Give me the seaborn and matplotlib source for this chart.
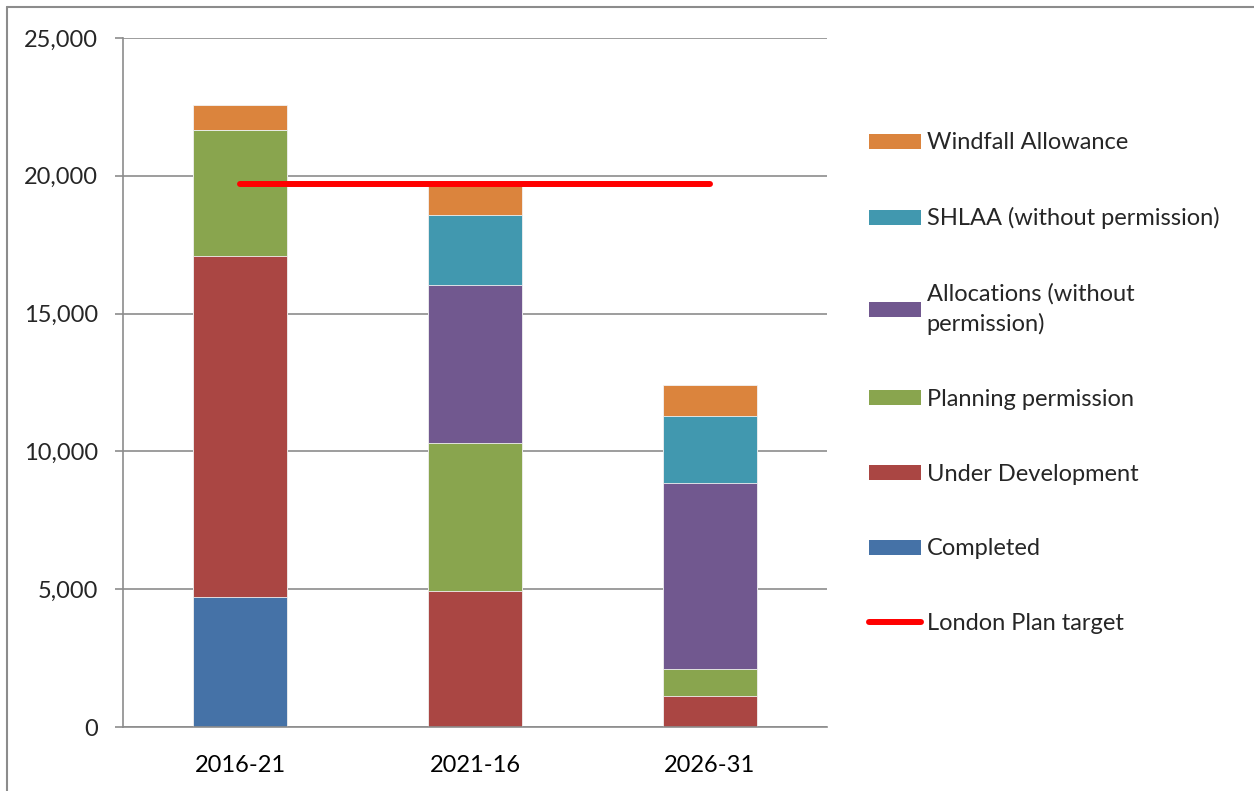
import numpy as np
import pandas as pd
import seaborn as sns
import matplotlib.pyplot as plt
from matplotlib.patches import Patch
from matplotlib.lines import Line2D

# data (dwellings per five-year period)
periods = ['2016-21', '2021-16', '2026-31']
completed = [4700, 0, 0]
under_development = [12390, 4940, 1130]
planning_permission = [4570, 5370, 980]
allocations = [0, 5740, 6750]
shlaa = [0, 2540, 2430]
windfall = [910, 1050, 1120]
london_plan_target = 19700

series_names = ['Completed', 'Under Development', 'Planning permission',
                'Allocations (without\npermission)', 'SHLAA (without permission)',
                'Windfall Allowance']
series_values = [completed, under_development, planning_permission,
                 allocations, shlaa, windfall]
colors = ['#4572A7', '#AA4643', '#89A54E', '#71588F', '#4198AF', '#DB843D']

sns.set_style('white')
plt.rcParams['font.family'] = ['Lato', 'DejaVu Sans']
fs = 17

fig = plt.figure(figsize=(12.54, 7.91), dpi=100)
ax = fig.add_axes([123 / 1254, 1 - 727 / 791, (827 - 123) / 1254, (727 - 38) / 791])

# stacked bars: draw cumulative totals from the top layer down
df = pd.DataFrame(dict(zip(series_names, series_values)), index=periods)
cum = df.cumsum(axis=1)
for name, col in reversed(list(zip(series_names, colors))):
    sns.barplot(x=periods, y=cum[name].values, color=col, width=0.4,
                saturation=1, edgecolor='#f2f2f2', linewidth=0.6, ax=ax, zorder=2)

# London Plan target line across the periods
ax.plot(np.arange(len(periods)), [london_plan_target] * len(periods),
        color='#ff0000', lw=4.3, solid_capstyle='round', zorder=3)

ax.set_ylim(0, 25000)
ax.set_xlim(-0.5, len(periods) - 0.5)
ax.set_yticks(np.arange(0, 25001, 5000))
ax.set_yticklabels([f'{v:,}' for v in range(0, 25001, 5000)])
ax.yaxis.grid(True, color='#8c8c8c', lw=1.2)
ax.set_axisbelow(True)
ax.set_xticks(np.arange(len(periods)))
ax.set_xticklabels(periods)
ax.set_xticks(np.arange(-0.5, len(periods), 1), minor=True)
ax.tick_params(axis='x', which='major', length=0, pad=20, labelsize=fs, colors='black')
ax.tick_params(axis='x', which='minor', length=6, width=1.2, color='#8c8c8c', direction='out')
ax.tick_params(axis='y', length=6, width=1.2, color='#8c8c8c', direction='out',
               labelsize=fs, pad=12, left=True)
for s in ['top', 'right']:
    ax.spines[s].set_visible(False)
for s in ['left', 'bottom']:
    ax.spines[s].set_color('#8c8c8c')
    ax.spines[s].set_linewidth(1.2)
ax.set_xlabel('')
ax.set_ylabel('')

# legend, top entry first like the original
handles = [Patch(facecolor=c, edgecolor='none') for c in colors][::-1]
labels = series_names[::-1]
handles.append(Line2D([0], [0], color='#ff0000', lw=4.3, solid_capstyle='round'))
labels.append('London Plan target')
leg = fig.legend(handles, labels, loc='upper left', bbox_to_anchor=(860 / 1254, 1 - 123 / 791),
                 frameon=False, fontsize=fs, handlelength=2.2, handleheight=0.6,
                 handletextpad=0.22, labelspacing=2.28, borderaxespad=0)
for t in leg.get_texts():
    t.set_linespacing(1.45)

# outer frame lines of the chart area
fig.add_artist(Line2D([7 / 1254, 1], [1 - 7 / 791, 1 - 7 / 791], color='#8c8c8c', lw=1.5))
fig.add_artist(Line2D([7 / 1254, 7 / 1254], [0, 1 - 7 / 791], color='#8c8c8c', lw=1.5))

fig.savefig('out.png', dpi=100, facecolor='white')
